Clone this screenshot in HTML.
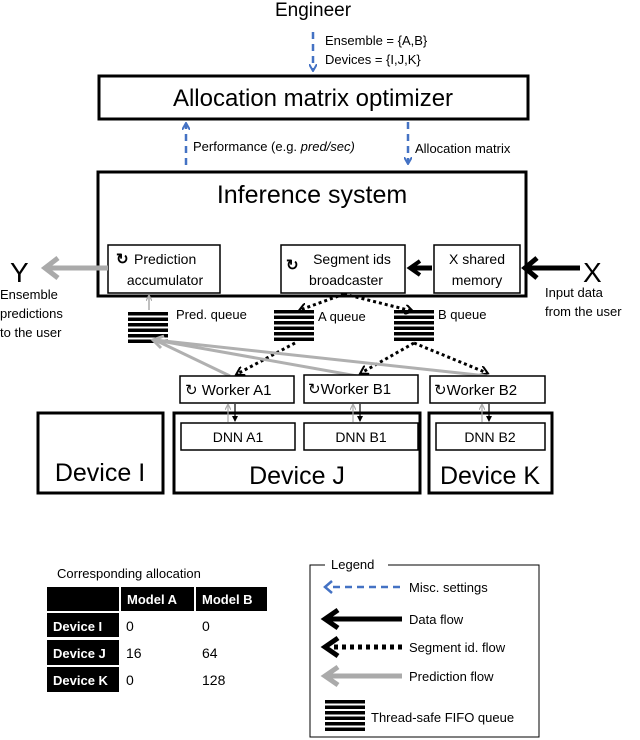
<!DOCTYPE html>
<html><head><meta charset="utf-8"><style>
body{margin:0;background:#fff}
svg{display:block}
text{font-family:"Liberation Sans",sans-serif;fill:#000}
</style></head><body>
<svg width="640" height="740" viewBox="0 0 640 740" xmlns="http://www.w3.org/2000/svg">
<defs>
<marker id="bl" markerWidth="8" markerHeight="8" refX="6" refY="4" orient="auto" markerUnits="userSpaceOnUse"><path d="M0,0 L7,4 L0,8" fill="none" stroke="#4472c4" stroke-width="2"/></marker>
<marker id="dk" markerWidth="10" markerHeight="10" refX="7" refY="5" orient="auto" markerUnits="userSpaceOnUse"><path d="M0,0 L8,5 L0,10" fill="none" stroke="#000" stroke-width="2"/></marker>
<marker id="sm" markerWidth="6" markerHeight="6" refX="5" refY="3" orient="auto" markerUnits="userSpaceOnUse"><path d="M0,0 L6,3 L0,6 z" fill="#000"/></marker>
<marker id="smg" markerWidth="6" markerHeight="6" refX="5" refY="3" orient="auto" markerUnits="userSpaceOnUse"><path d="M0,0 L6,3 L0,6" fill="none" stroke="#aaa" stroke-width="1.2"/></marker>
<g id="q"><rect x="0" y="0" width="40" height="3.5"/><rect x="0" y="5.5" width="40" height="3.5"/><rect x="0" y="11" width="40" height="3.5"/><rect x="0" y="16.5" width="40" height="3.5"/><rect x="0" y="22" width="40" height="3.5"/><rect x="0" y="27.5" width="40" height="3.5"/></g>
</defs>

<text x="313" y="16" font-size="19" text-anchor="middle">Engineer</text>
<line x1="313" y1="32" x2="313" y2="70" stroke="#4472c4" stroke-width="2.5" stroke-dasharray="7,5" marker-end="url(#bl)"/>
<text x="325" y="45" font-size="13">Ensemble = {A,B}</text>
<text x="325" y="64" font-size="13">Devices = {I,J,K}</text>
<rect x="99" y="76" width="429" height="43" fill="none" stroke="#000" stroke-width="3"/>
<text x="313" y="106" font-size="24" text-anchor="middle">Allocation matrix optimizer</text>
<line x1="186" y1="165" x2="186" y2="124" stroke="#4472c4" stroke-width="2.5" stroke-dasharray="7,5" marker-end="url(#bl)"/>
<text x="193" y="151" font-size="13">Performance (e.g. <tspan font-style="italic">pred/sec)</tspan></text>
<line x1="408" y1="122" x2="408" y2="163" stroke="#4472c4" stroke-width="2.5" stroke-dasharray="7,5" marker-end="url(#bl)"/>
<text x="415" y="153" font-size="13">Allocation matrix</text>

<rect x="98" y="172" width="428" height="124" fill="none" stroke="#000" stroke-width="3"/>
<text x="312" y="203" font-size="25" text-anchor="middle">Inference system</text>

<rect x="108" y="245" width="112" height="48" fill="#fff" stroke="#000" stroke-width="1.5"/>
<text x="116" y="264" font-size="15" font-weight="bold">↻</text>
<text x="134" y="264" font-size="14">Prediction</text>
<text x="165" y="285" font-size="14" text-anchor="middle">accumulator</text>
<rect x="281" y="245" width="124" height="48" fill="#fff" stroke="#000" stroke-width="1.5"/>
<text x="286" y="270" font-size="15" font-weight="bold">↻</text>
<text x="352" y="264" font-size="14" text-anchor="middle">Segment ids</text>
<text x="346" y="285" font-size="14" text-anchor="middle">broadcaster</text>
<rect x="434" y="245" width="86" height="48" fill="#fff" stroke="#000" stroke-width="1.5"/>
<text x="477" y="264" font-size="14" text-anchor="middle">X shared</text>
<text x="477" y="285" font-size="14" text-anchor="middle">memory</text>

<text x="10" y="282" font-size="28">Y</text>
<line x1="108" y1="268" x2="46" y2="268" stroke="#aaa" stroke-width="5"/>
<path d="M58,258 L45,268 L58,278" fill="none" stroke="#aaa" stroke-width="5"/>
<text x="0" y="299" font-size="13">Ensemble</text>
<text x="0" y="318" font-size="13">predictions</text>
<text x="0" y="337" font-size="13">to the user</text>
<text x="583" y="282" font-size="28">X</text>
<line x1="580" y1="268" x2="526" y2="268" stroke="#000" stroke-width="5"/>
<path d="M537,258 L525,268 L537,278" fill="none" stroke="#000" stroke-width="5"/>
<text x="545" y="297" font-size="13">Input data</text>
<text x="545" y="316" font-size="13">from the user</text>
<line x1="432" y1="268" x2="412" y2="268" stroke="#000" stroke-width="5"/>
<path d="M420,261 L410,268 L420,275" fill="none" stroke="#000" stroke-width="4"/>

<use href="#q" x="128" y="312"/>
<use href="#q" x="274" y="310"/>
<use href="#q" x="394" y="310"/>
<text x="176" y="319" font-size="13">Pred. queue</text>
<text x="318" y="321" font-size="13">A queue</text>
<text x="438" y="319" font-size="13">B queue</text>
<line x1="149" y1="310" x2="149" y2="296" stroke="#aaa" stroke-width="1.5" marker-end="url(#smg)"/>

<line x1="344" y1="294" x2="300" y2="310" stroke="#000" stroke-width="3" stroke-dasharray="3,3" marker-end="url(#dk)"/>
<line x1="344" y1="294" x2="412" y2="311" stroke="#000" stroke-width="3" stroke-dasharray="3,3" marker-end="url(#dk)"/>
<line x1="295" y1="343" x2="237" y2="374" stroke="#000" stroke-width="3" stroke-dasharray="3,3" marker-end="url(#dk)"/>
<line x1="414" y1="343" x2="361" y2="373" stroke="#000" stroke-width="3" stroke-dasharray="3,3" marker-end="url(#dk)"/>
<line x1="414" y1="343" x2="487" y2="373" stroke="#000" stroke-width="3" stroke-dasharray="3,3" marker-end="url(#dk)"/>

<g stroke="#b0b0b0" stroke-width="3" fill="none">
<line x1="230" y1="376" x2="155" y2="340"/>
<line x1="357" y1="376" x2="155" y2="340"/>
<line x1="487" y1="376" x2="155" y2="340"/>
<path d="M164,336 L153,340 L161,348"/>
</g>

<g font-size="15">
<rect x="180" y="376" width="114" height="27" fill="#fff" stroke="#000" stroke-width="1.5"/>
<text x="185" y="395">↻ Worker A1</text>
<rect x="304" y="375" width="114" height="28" fill="#fff" stroke="#000" stroke-width="1.5"/>
<text x="308" y="394">↻Worker B1</text>
<rect x="430" y="376" width="115" height="27" fill="#fff" stroke="#000" stroke-width="1.5"/>
<text x="434" y="395">↻Worker B2</text>
</g>

<rect x="38" y="413" width="125" height="80" fill="none" stroke="#000" stroke-width="3"/>
<text x="100" y="481" font-size="25" text-anchor="middle">Device I</text>
<rect x="174" y="413" width="246" height="80" fill="none" stroke="#000" stroke-width="3"/>
<text x="297" y="484" font-size="25" text-anchor="middle">Device J</text>
<rect x="429" y="413" width="123" height="80" fill="none" stroke="#000" stroke-width="3"/>
<text x="490" y="484" font-size="25" text-anchor="middle">Device K</text>
<g font-size="14" text-anchor="middle">
<rect x="181" y="423" width="114" height="27" fill="#fff" stroke="#000" stroke-width="1.5"/><text x="238" y="442">DNN A1</text>
<rect x="304" y="423" width="114" height="27" fill="#fff" stroke="#000" stroke-width="1.5"/><text x="361" y="442">DNN B1</text>
<rect x="436" y="423" width="109" height="27" fill="#fff" stroke="#000" stroke-width="1.5"/><text x="490" y="442">DNN B2</text>
</g>
<g stroke-width="1.2">
<line x1="228" y1="422" x2="228" y2="405" stroke="#aaa" marker-end="url(#smg)"/>
<line x1="235" y1="404" x2="235" y2="421" stroke="#000" marker-end="url(#sm)"/>
<line x1="353" y1="422" x2="353" y2="405" stroke="#aaa" marker-end="url(#smg)"/>
<line x1="360" y1="404" x2="360" y2="421" stroke="#000" marker-end="url(#sm)"/>
<line x1="482" y1="422" x2="482" y2="405" stroke="#aaa" marker-end="url(#smg)"/>
<line x1="489" y1="404" x2="489" y2="421" stroke="#000" marker-end="url(#sm)"/>
</g>

<text x="57" y="578" font-size="13">Corresponding allocation</text>
<g fill="#000">
<rect x="47" y="587" width="72" height="24"/><rect x="121" y="587" width="73" height="24"/><rect x="196" y="587" width="71" height="24"/>
<rect x="47" y="613" width="72" height="24"/><rect x="47" y="640" width="72" height="25"/><rect x="47" y="667" width="72" height="25"/>
</g>
<g font-size="13" font-weight="bold">
<text x="127" y="604" style="fill:#fff">Model A</text><text x="202" y="604" style="fill:#fff">Model B</text>
<text x="53" y="631" style="fill:#fff">Device I</text><text x="53" y="658" style="fill:#fff">Device J</text><text x="53" y="685" style="fill:#fff">Device K</text>
</g>
<g font-size="14">
<text x="126" y="631">0</text><text x="202" y="631">0</text>
<text x="126" y="658">16</text><text x="202" y="658">64</text>
<text x="126" y="685">0</text><text x="202" y="685">128</text>
</g>

<path d="M325,565 L310,565 L310,737 L539,737 L539,565 L388,565" fill="none" stroke="#000" stroke-width="1"/>
<text x="331" y="569" font-size="13">Legend</text>
<line x1="400" y1="587" x2="330" y2="587" stroke="#4472c4" stroke-width="2.5" stroke-dasharray="7,5"/>
<path d="M332,581 L325,587 L332,593" fill="none" stroke="#4472c4" stroke-width="2.5"/>
<text x="409" y="592" font-size="13">Misc. settings</text>
<line x1="402" y1="619" x2="326" y2="619" stroke="#000" stroke-width="5"/>
<path d="M338,610 L325,619 L338,628" fill="none" stroke="#000" stroke-width="5"/>
<text x="409" y="624" font-size="13">Data flow</text>
<line x1="402" y1="647" x2="330" y2="647" stroke="#000" stroke-width="5" stroke-dasharray="4,4"/>
<path d="M338,638 L325,647 L338,656" fill="none" stroke="#000" stroke-width="5"/>
<text x="409" y="652" font-size="13">Segment id. flow</text>
<line x1="402" y1="676" x2="326" y2="676" stroke="#aaa" stroke-width="5"/>
<path d="M338,667 L325,676 L338,685" fill="none" stroke="#aaa" stroke-width="5"/>
<text x="409" y="681" font-size="13">Prediction flow</text>
<use href="#q" x="325" y="700"/>
<text x="371" y="722" font-size="13">Thread-safe FIFO queue</text>
</svg>
</body></html>
